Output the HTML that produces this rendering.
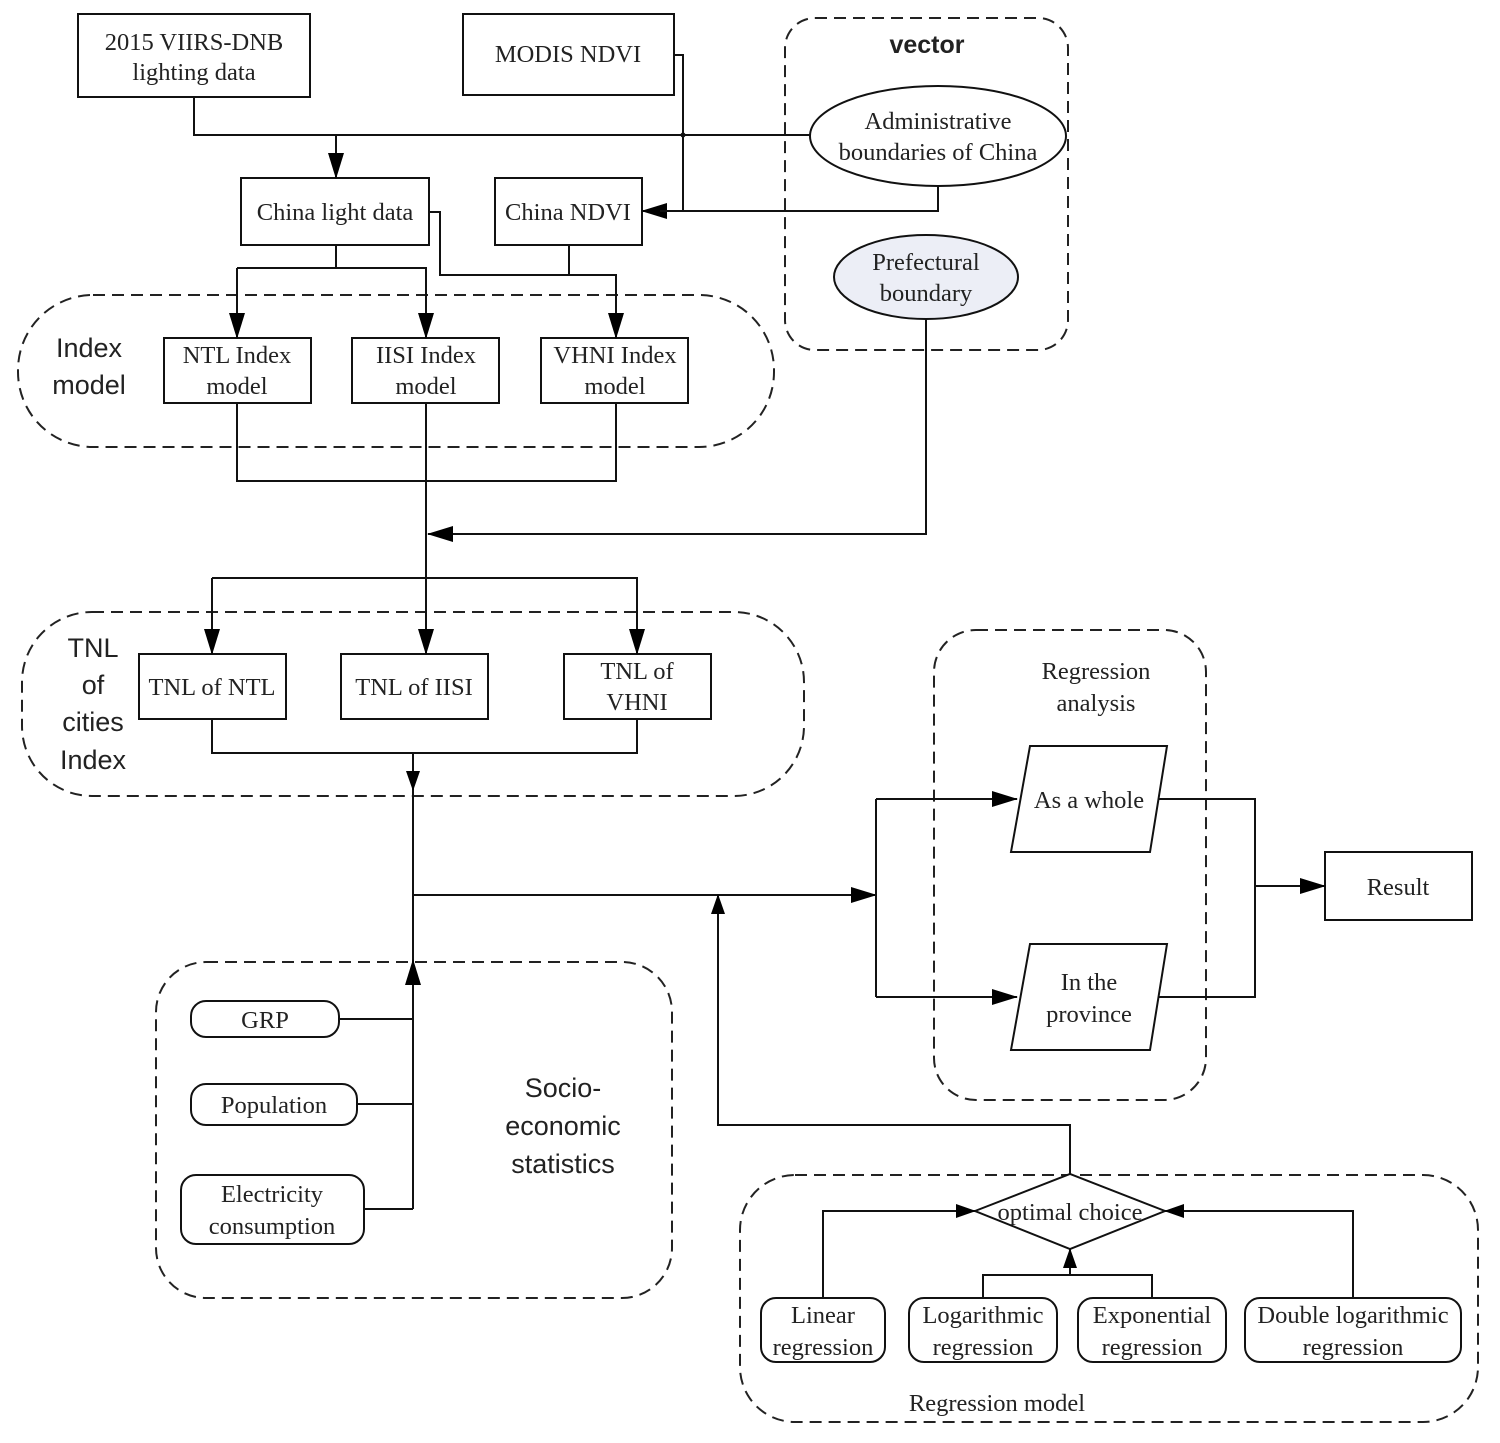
<!DOCTYPE html>
<html><head><meta charset="utf-8"><style>html,body{margin:0;padding:0;background:#fff}svg{display:block}</style></head>
<body>
<svg width="1500" height="1443" viewBox="0 0 1500 1443" xmlns="http://www.w3.org/2000/svg">
<defs>
<marker id="a" markerWidth="14" markerHeight="14" refX="13" refY="7" orient="auto" markerUnits="userSpaceOnUse"><path d="M0,0 L14,7 L0,14 z" fill="#000"/></marker>
<marker id="m" markerWidth="20" markerHeight="14" refX="19" refY="7" orient="auto" markerUnits="userSpaceOnUse"><path d="M0,0 L20,7 L0,14 z" fill="#000"/></marker>
<marker id="b" markerWidth="26" markerHeight="16" refX="25" refY="8" orient="auto" markerUnits="userSpaceOnUse"><path d="M0,0 L26,8 L0,16 z" fill="#000"/></marker>
</defs>
<g fill="none" stroke="#222" stroke-width="2" stroke-dasharray="12,7">
<rect x="785" y="18" width="283" height="332" rx="30"/>
<rect x="18" y="295" width="756" height="152" rx="75"/>
<rect x="22" y="612" width="782" height="184" rx="70"/>
<rect x="934" y="630" width="272" height="470" rx="42"/>
<rect x="156" y="962" width="516" height="336" rx="50"/>
<rect x="740" y="1175" width="738" height="247" rx="55"/>
</g>
<g fill="none" stroke="#111" stroke-width="2">
<rect x="78" y="14" width="232" height="83"/>
<rect x="463" y="14" width="211" height="81"/>
<rect x="241" y="178" width="188" height="67"/>
<rect x="495" y="178" width="147" height="67"/>
<rect x="164" y="338" width="147" height="65"/>
<rect x="352" y="338" width="147" height="65"/>
<rect x="541" y="338" width="147" height="65"/>
<rect x="139" y="654" width="147" height="65"/>
<rect x="341" y="654" width="147" height="65"/>
<rect x="564" y="654" width="147" height="65"/>
<rect x="1325" y="852" width="147" height="68"/>
<ellipse cx="938" cy="136" rx="128" ry="50" fill="#fff"/>
<ellipse cx="926" cy="277" rx="92" ry="42" fill="#eceef6"/>
<polygon points="1030,746 1167,746 1150,852 1011,852"/>
<polygon points="1030,944 1167,944 1150,1050 1011,1050"/>
<rect x="191" y="1001" width="148" height="36" rx="15"/>
<rect x="191" y="1084" width="166" height="41" rx="15"/>
<rect x="181" y="1175" width="183" height="69" rx="15"/>
<polygon points="975,1211 1070,1174 1165,1211 1070,1249" fill="#fff"/>
<rect x="761" y="1298" width="124" height="64" rx="15"/>
<rect x="909" y="1298" width="148" height="64" rx="15"/>
<rect x="1078" y="1298" width="148" height="64" rx="15"/>
<rect x="1245" y="1298" width="216" height="64" rx="15"/>
</g>
<g fill="none" stroke="#111" stroke-width="2">
<path d="M194,97 V135 H810"/>
<path d="M336,135 V178" marker-end="url(#b)"/>
<path d="M674,55 H683 V211 H642" marker-end="url(#b)"/>
<path d="M938,186 V211 H660"/>
<path d="M336,245 V268 H426 V338" marker-end="url(#b)"/>
<path d="M237,268 H336 M237,268 V338" marker-end="url(#b)"/>
<path d="M429,212 H440 V275 H616 V338" marker-end="url(#b)"/>
<path d="M569,245 V275"/>
<path d="M237,403 V481 H616 V403"/>
<path d="M426,403 V654" marker-end="url(#b)"/>
<path d="M926,319 V534 H428" marker-end="url(#b)"/>
<path d="M212,578 H637 V654" marker-end="url(#b)"/>
<path d="M212,578 V654" marker-end="url(#b)"/>
<path d="M212,719 V753 H637 V719"/>
<path d="M413,753 V790" marker-end="url(#m)"/>
<path d="M413,790 V1209"/>
<path d="M413,1100 V960" marker-end="url(#b)"/>
<path d="M413,895 H876" marker-end="url(#b)"/>
<path d="M876,799 V997"/>
<path d="M876,799 H1017" marker-end="url(#b)"/>
<path d="M876,997 H1017" marker-end="url(#b)"/>
<path d="M1158,799 H1255 V997 H1158"/>
<path d="M1255,886 H1325" marker-end="url(#b)"/>
<path d="M339,1019 H413 M357,1104 H413 M364,1209 H413"/>
<path d="M1070,1174 V1125 H718 V895" marker-end="url(#m)"/>
<path d="M823,1298 V1211 H975" marker-end="url(#m)"/>
<path d="M1353,1298 V1211 H1165" marker-end="url(#m)"/>
<path d="M983,1298 V1275 H1152 V1298 M1070,1275 V1249" marker-end="url(#m)"/>
</g>
<circle cx="683" cy="135" r="2.5" fill="#111"/>
<g font-family="Liberation Serif, serif" font-size="24.5" fill="#222" text-anchor="middle">
<text x="194" y="50">2015 VIIRS-DNB</text><text x="194" y="80">lighting data</text>
<text x="568" y="62">MODIS NDVI</text>
<text x="938" y="129">Administrative</text><text x="938" y="160">boundaries of China</text>
<text x="926" y="270">Prefectural</text><text x="926" y="301">boundary</text>
<text x="335" y="220">China light data</text>
<text x="568" y="220">China NDVI</text>
<text x="237" y="363">NTL Index</text><text x="237" y="394">model</text>
<text x="426" y="363">IISI Index</text><text x="426" y="394">model</text>
<text x="615" y="363">VHNI Index</text><text x="615" y="394">model</text>
<text x="212" y="695">TNL of NTL</text>
<text x="414" y="695">TNL of IISI</text>
<text x="637" y="679">TNL of</text><text x="637" y="710">VHNI</text>
<text x="1096" y="679">Regression</text><text x="1096" y="711">analysis</text>
<text x="1089" y="808">As a whole</text>
<text x="1089" y="990">In the</text><text x="1089" y="1022">province</text>
<text x="1398" y="895">Result</text>
<text x="265" y="1028">GRP</text>
<text x="274" y="1113">Population</text>
<text x="272" y="1202">Electricity</text><text x="272" y="1234">consumption</text>
<text x="1070" y="1220">optimal choice</text>
<text x="823" y="1323">Linear</text><text x="823" y="1355">regression</text>
<text x="983" y="1323">Logarithmic</text><text x="983" y="1355">regression</text>
<text x="1152" y="1323">Exponential</text><text x="1152" y="1355">regression</text>
<text x="1353" y="1323">Double logarithmic</text><text x="1353" y="1355">regression</text>
<text x="997" y="1411">Regression model</text>
</g>
<g font-family="Liberation Sans, sans-serif" font-size="27" fill="#222" text-anchor="middle">
<text x="927" y="53" font-size="25" font-weight="bold">vector</text>
<text x="89" y="357">Index</text><text x="89" y="394">model</text>
<text x="93" y="657">TNL</text><text x="93" y="694">of</text><text x="93" y="731">cities</text><text x="93" y="769">Index</text>
<text x="563" y="1097">Socio-</text><text x="563" y="1135">economic</text><text x="563" y="1173">statistics</text>
</g>
</svg>
</body></html>
